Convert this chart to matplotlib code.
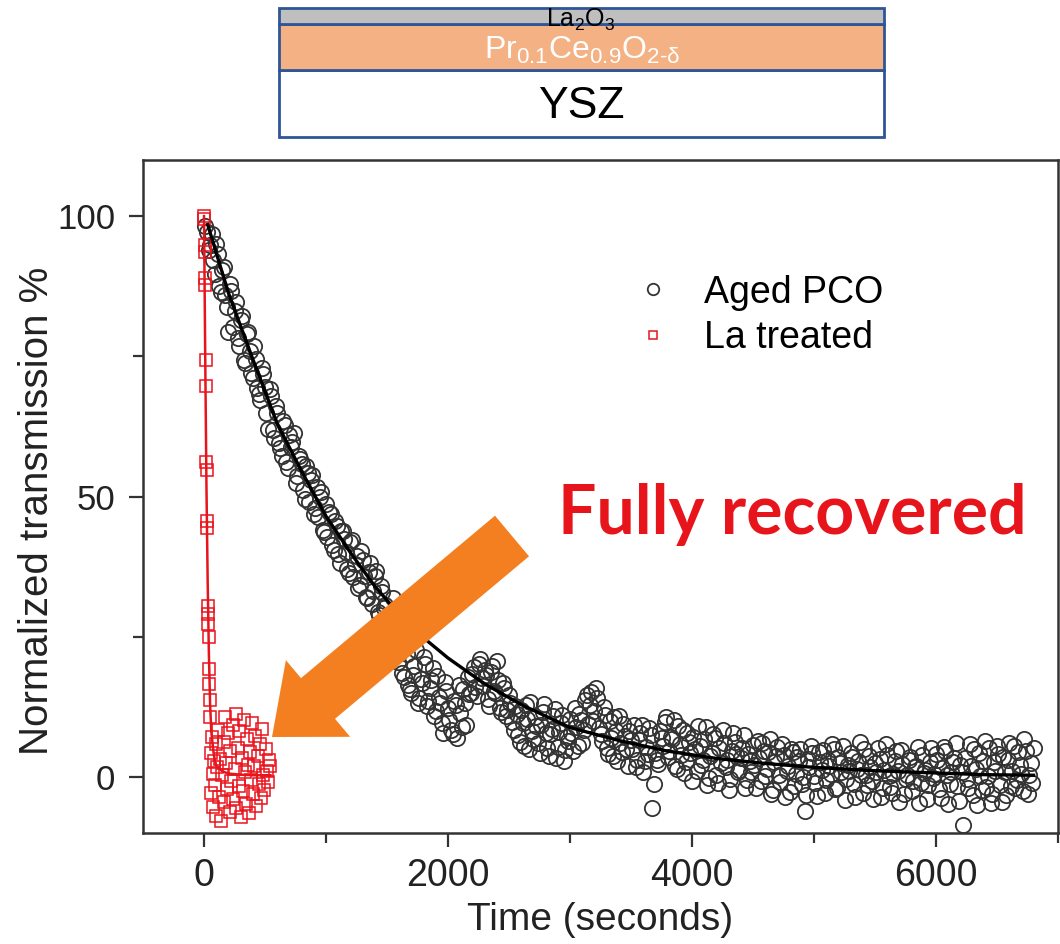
import matplotlib
matplotlib.use('Agg')
import matplotlib.pyplot as plt
import matplotlib.transforms as mtransforms
from matplotlib.patches import Rectangle, FancyArrow
from matplotlib.ticker import MultipleLocator

plt.rcParams['font.family'] = ['Liberation Sans', 'DejaVu Sans']
plt.rcParams['mathtext.fontset'] = 'custom'
plt.rcParams['mathtext.rm'] = 'Liberation Sans'
plt.rcParams['mathtext.it'] = 'Liberation Sans'

# ---- data ----
# aged PCO, normalized transmission (%) vs time (s) -- first pass of readings
aged_time = [
    25, 50, 75, 100, 125, 150, 175, 200, 225, 250, 275, 300, 325, 350, 375, 400, 425, 450, 475, 500,
    525, 550, 575, 600, 625, 650, 675, 700, 725, 750, 775, 800, 825, 850, 875, 900, 925, 950, 975, 1000,
    1025, 1050, 1075, 1100, 1125, 1150, 1175, 1200, 1225, 1250, 1275, 1300, 1325, 1350, 1375, 1400, 1425, 1450, 1475, 1500,
    1525, 1550, 1575, 1600, 1625, 1650, 1675, 1700, 1725, 1750, 1775, 1800, 1825, 1850, 1875, 1900, 1925, 1950, 1975, 2000,
    2025, 2050, 2075, 2100, 2125, 2150, 2175, 2200, 2225, 2250, 2275, 2300, 2325, 2350, 2375, 2400, 2425, 2450, 2475, 2500,
    2525, 2550, 2575, 2600, 2625, 2650, 2675, 2700, 2725, 2750, 2775, 2800, 2825, 2850, 2875, 2900, 2925, 2950, 2975, 3000,
    3025, 3050, 3075, 3100, 3125, 3150, 3175, 3200, 3225, 3250, 3275, 3300, 3325, 3350, 3375, 3400, 3425, 3450, 3475, 3500,
    3525, 3550, 3575, 3600, 3625, 3650, 3675, 3700, 3725, 3750, 3775, 3800, 3825, 3850, 3875, 3900, 3925, 3950, 3975, 4000,
    4025, 4050, 4075, 4100, 4125, 4150, 4175, 4200, 4225, 4250, 4275, 4300, 4325, 4350, 4375, 4400, 4425, 4450, 4475, 4500,
    4525, 4550, 4575, 4600, 4625, 4650, 4675, 4700, 4725, 4750, 4775, 4800, 4825, 4850, 4875, 4900, 4925, 4950, 4975, 5000,
    5025, 5050, 5075, 5100, 5125, 5150, 5175, 5200, 5225, 5250, 5275, 5300, 5325, 5350, 5375, 5400, 5425, 5450, 5475, 5500,
    5525, 5550, 5575, 5600, 5625, 5650, 5675, 5700, 5725, 5750, 5775, 5800, 5825, 5850, 5875, 5900, 5925, 5950, 5975, 6000,
    6025, 6050, 6075, 6100, 6125, 6150, 6175, 6200, 6225, 6250, 6275, 6300, 6325, 6350, 6375, 6400, 6425, 6450, 6475, 6500,
    6525, 6550, 6575, 6600, 6625, 6650, 6675, 6700, 6725, 6750, 6775, 6800,
]
aged_trans = [
    97.2, 94.8, 92.1, 95.0, 87.6, 90.3, 85.9, 79.4, 86.7, 83.1, 78.2, 81.5, 74.3, 78.9, 76.0, 71.2, 74.6, 68.3, 72.9, 69.5,
    62.1, 67.9, 60.4, 64.8, 58.7, 63.5, 56.2, 60.9, 59.8, 52.4, 57.3, 55.8, 49.6, 54.2, 52.9, 46.8, 51.7, 49.9, 44.1, 48.6,
    47.2, 41.3, 45.6, 39.8, 43.9, 42.5, 37.1, 41.8, 35.6, 39.4, 34.2, 38.7, 32.1, 36.5, 30.8, 35.9, 29.4, 34.1, 30.2, 27.6,
    26.3, 31.9, 24.8, 22.1, 18.6, 25.7, 16.4, 14.9, 19.8, 13.2, 17.5, 21.3, 12.6, 15.8, 19.4, 11.7, 14.3, 9.6, 16.9, 12.2,
    8.3, 13.5, 6.9, 11.4, 15.7, 9.2, 14.8, 18.3, 16.1, 20.2, 17.6, 19.1, 13.9, 18.7, 15.4, 20.6, 12.3, 16.8, 10.9, 14.6,
    9.8, 12.7, 7.4, 11.9, 5.6, 10.3, 13.4, 6.8, 9.1, 4.2, 11.6, 7.9, 3.8, 8.6, 12.1, 5.3, 9.7, 2.9, 7.2, 10.4,
    4.6, 8.9, 11.3, 6.1, 13.8, 9.4, 15.2, 11.7, 14.1, 7.6, 12.4, 5.2, 9.9, 3.7, 8.2, 10.8, 4.4, 7.3, 1.9, 6.6,
    9.2, 3.1, 7.8, 0.9, 5.4, 8.7, -5.6, 4.2, 2.3, 6.9, 9.8, 3.6, 7.1, 10.2, 1.4, 5.8, 8.4, 2.7, 6.3, -0.8,
    4.9, 9.1, 2.2, 6.7, -1.5, 3.8, 7.6, 0.4, 5.1, 8.3, 1.7, -2.3, 4.6, 6.2, 0.8, 3.3, 7.4, -0.6, 2.9, 5.7,
    -1.9, 3.4, 6.1, 0.2, 4.5, -3.1, 2.6, 5.3, -0.9, 3.9, 1.1, -2.7, 4.4, 0.6, 2.8, -1.2, -6.1, 3.2, 5.5, 0.1,
    -3.4, 2.7, 4.8, -0.5, 1.9, 5.9, -2.2, 3.6, 0.9, -4.1, 2.1, 4.3, -1.3, 1.5, 6.2, -2.8, 0.3, 3.7, -0.7, 2.4,
    5.1, -3.6, 1.2, 3.9, -1.8, 0.5, 4.6, -4.4, 2.3, -0.4, 3.1, -2.5, 1.8, 5.4, -1.1, 0.7, -3.9, 2.6, -0.2, 4.1,
    -2.1, 1.6, 4.7, -4.8, 0.9, 3.3, -1.6, 2.2, -8.6, -0.3, 5.9, -3.2, 1.4, 4.2, -2.4, 6.4, 0.2, -4.6, 2.7, 5.6,
    -1.4, 3.5, -3.3, 6.1, 1.1, -2.0, 4.4, 0.6, 6.8, -3.0, 2.5, 5.2,
]
# second, interleaved pass of readings (the cloud is dense)
aged_time_b = [
    12, 37, 62, 87, 112, 137, 162, 187, 212, 237, 262, 287, 312, 337, 362, 387, 412, 437, 462, 487,
    512, 537, 562, 587, 612, 637, 662, 687, 712, 737, 762, 787, 812, 837, 862, 887, 912, 937, 962, 987,
    1012, 1037, 1062, 1087, 1112, 1137, 1162, 1187, 1212, 1237, 1262, 1287, 1312, 1337, 1362, 1387, 1412, 1437, 1462, 1487,
    1512, 1537, 1562, 1587, 1612, 1637, 1662, 1687, 1712, 1737, 1762, 1787, 1812, 1837, 1862, 1887, 1912, 1937, 1962, 1987,
    2012, 2037, 2062, 2087, 2112, 2137, 2162, 2187, 2212, 2237, 2262, 2287, 2312, 2337, 2362, 2387, 2412, 2437, 2462, 2487,
    2512, 2537, 2562, 2587, 2612, 2637, 2662, 2687, 2712, 2737, 2762, 2787, 2812, 2837, 2862, 2887, 2912, 2937, 2962, 2987,
    3012, 3037, 3062, 3087, 3112, 3137, 3162, 3187, 3212, 3237, 3262, 3287, 3312, 3337, 3362, 3387, 3412, 3437, 3462, 3487,
    3512, 3537, 3562, 3587, 3612, 3637, 3662, 3687, 3712, 3737, 3762, 3787, 3812, 3837, 3862, 3887, 3912, 3937, 3962, 3987,
    4012, 4037, 4062, 4087, 4112, 4137, 4162, 4187, 4212, 4237, 4262, 4287, 4312, 4337, 4362, 4387, 4412, 4437, 4462, 4487,
    4512, 4537, 4562, 4587, 4612, 4637, 4662, 4687, 4712, 4737, 4762, 4787, 4812, 4837, 4862, 4887, 4912, 4937, 4962, 4987,
    5012, 5037, 5062, 5087, 5112, 5137, 5162, 5187, 5212, 5237, 5262, 5287, 5312, 5337, 5362, 5387, 5412, 5437, 5462, 5487,
    5512, 5537, 5562, 5587, 5612, 5637, 5662, 5687, 5712, 5737, 5762, 5787, 5812, 5837, 5862, 5887, 5912, 5937, 5962, 5987,
    6012, 6037, 6062, 6087, 6112, 6137, 6162, 6187, 6212, 6237, 6262, 6287, 6312, 6337, 6362, 6387, 6412, 6437, 6462, 6487,
    6512, 6537, 6562, 6587, 6612, 6637, 6662, 6687, 6712, 6737, 6762, 6787,
]
aged_trans_b = [
    98.3, 93.9, 96.8, 89.7, 93.2, 86.4, 91.0, 83.7, 87.9, 80.2, 84.6, 76.9, 82.1, 73.8, 79.3, 72.1, 76.8, 69.4, 67.2, 71.8,
    64.9, 69.1, 61.8, 66.2, 59.5, 57.3, 62.7, 55.1, 58.9, 61.3, 53.7, 56.6, 51.2, 55.4, 49.1, 53.8, 47.9, 46.3, 50.8, 43.6,
    42.8, 46.9, 40.5, 44.7, 38.2, 43.8, 40.1, 36.4, 42.2, 37.9, 33.6, 40.3, 35.8, 31.9, 38.1, 33.2, 36.7, 28.9, 33.0, 30.6,
    28.4, 23.7, 27.9, 20.5, 24.3, 17.8, 21.9, 15.6, 18.2, 22.6, 14.1, 16.7, 20.1, 13.5, 17.2, 10.8, 18.0, 13.1, 7.9, 15.3,
    10.2, 7.6, 12.8, 16.4, 8.9, 13.2, 17.9, 15.0, 19.6, 14.4, 21.1, 16.3, 18.1, 12.7, 19.8, 14.9, 17.3, 11.5, 15.9, 12.0,
    13.1, 8.4, 11.2, 6.3, 9.6, 12.9, 4.9, 8.2, 10.7, 6.0, 9.3, 13.0, 5.1, 7.7, 10.9, 3.4, 8.0, 11.1, 4.8, 6.4,
    7.9, 12.2, 5.5, 10.1, 8.3, 14.6, 12.9, 10.0, 15.8, 8.8, 6.4, 11.0, 4.1, 7.0, 10.6, 2.8, 6.1, 9.5, 4.9, 8.1,
    5.0, 1.8, 6.6, 9.3, 2.9, 4.0, 7.5, -1.3, 3.0, 8.2, 5.5, 10.6, 4.7, 6.8, 2.0, 9.0, 3.9, 0.7, 7.9, 4.3,
    7.2, 1.0, 5.6, 3.1, 8.9, -0.2, 4.3, 6.9, -1.0, 2.5, 6.0, 3.0, -0.4, 7.8, 4.1, 1.3, 5.2, -2.0, 4.0, 0.9,
    2.1, 6.4, -0.8, 4.7, 1.5, 6.8, -2.3, 3.7, 0.3, 5.8, -3.6, 2.0, 4.9, -1.6, 3.6, 5.0, 0.0, -3.3, 1.8, 4.2,
    -1.0, 4.5, 1.3, -2.9, 3.0, 0.6, 4.9, -1.9, 2.4, 5.6, -0.3, 1.0, 3.5, -3.5, 2.9, 0.4, 5.0, -1.5, 1.7, -4.0,
    0.8, 3.2, -2.0, 5.8, 0.1, -2.9, 2.8, 1.0, 4.8, -3.0, 0.4, 3.6, -0.8, 2.0, -4.7, 3.9, 1.3, -1.4, 5.2, 0.6,
    3.0, -3.7, 5.3, 0.4, -1.2, 2.6, 6.0, -4.3, 0.8, 3.4, -2.0, 1.9, 4.9, -5.0, 0.1, 2.8, -1.8, 5.1, -3.1, 1.0,
    4.0, -4.4, 0.9, 3.0, -1.7, 5.5, -0.5, 2.2, -2.6, 4.6, 0.3, -1.0,
]
# fitted decay for aged PCO
aged_fit_time = [30, 200, 400, 600, 800, 1000, 1200, 1400, 1600, 1800, 2000, 2300, 2600,
                 3000, 3400, 3800, 4200, 4600, 5000, 5500, 6000, 6400, 6800]
aged_fit_trans = [98.5, 86.3, 74.5, 63.0, 54.5, 46.5, 40.0, 34.0, 29.0, 24.8, 21.2, 16.6, 12.9,
                  8.8, 6.5, 4.6, 3.3, 2.4, 1.7, 1.1, 0.7, 0.4, 0.3]

# La treated
la_time = [0, 3, 6, 8, 10, 12, 15, 17, 19, 21, 24, 26, 30, 32, 34, 37, 40, 43, 46, 50,
           55, 60, 65, 70, 75, 80, 90, 95, 100, 110, 115, 125, 130, 140, 150, 160, 165, 175, 180, 190,
           200, 210, 215, 225, 235, 240, 250, 260, 265, 275, 285, 290, 300, 310, 320, 325, 335, 345, 350, 360,
           370, 380, 385, 395, 405, 410, 420, 430, 440, 450, 455, 465, 475, 485, 495, 505, 515, 525, 535, 545]
la_trans = [100.0, 99.5, 94.8, 93.6, 88.9, 87.8, 74.4, 69.7, 56.2, 54.8, 45.6, 44.3, 30.4, 29.1, 27.3, 24.9, 19.3, 16.5, 13.8, 10.6,
            4.2, -2.8, 7.1, 0.6, -5.3, 2.9, -1.4, 5.8, -6.9, 1.7, 8.4, -3.6, 3.2, -7.8, 0.3, 6.3, -4.5, 10.6, 2.4, -2.1,
            7.9, -6.2, 4.7, -0.8, 9.3, -3.9, 1.5, 11.2, -5.6, 5.2, -1.7, 8.1, -7.1, 3.4, -2.6, 10.1, 0.9, -4.8, 6.8, 2.1,
            -6.4, 4.4, -0.5, 9.6, -3.1, 1.9, 7.3, -5.1, 3.7, -1.2, 5.9, -3.8, 8.6, 0.4, -2.3, 4.9, 1.1, -0.9, 3.1, 2.0]
la_fit_time = [0, 10, 20, 30, 40, 50, 60, 80, 100, 150, 200, 300, 400, 500, 545]
la_fit_trans = [100, 75, 52, 35, 22, 13, 8, 4, 2, 1, 0.6, 0.4, 0.3, 0.3, 0.3]

W, H = 1060, 944
fig = plt.figure(figsize=(W / 100, H / 100), dpi=100)
# pixel coordinates with origin at top-left, for the decorations
px = mtransforms.Affine2D().scale(1.0 / W, -1.0 / H).translate(0, 1) + fig.transFigure

ax = fig.add_axes([143 / W, 111 / H, 915 / W, 673 / H])

circ = dict(ls='none', marker='o', ms=11, mfc='none', mec='#333333', mew=1.3, zorder=2)
ax.plot(aged_time, aged_trans, label='Aged PCO', **circ)
ax.plot(aged_time_b, aged_trans_b, **circ)
ax.plot(la_time, la_trans, ls='none', marker='s', ms=8.5, mfc='none',
        mec='#e8141c', mew=1.1, label='La treated', zorder=3)
ax.plot(aged_fit_time, aged_fit_trans, color='black', lw=2.4, zorder=4)
ax.plot(la_fit_time, la_fit_trans, color='#e8141c', lw=1.8, zorder=4)

ax.set_xlim(-500, 7000)
ax.set_ylim(-10, 110)
ax.xaxis.set_major_locator(MultipleLocator(2000))
ax.xaxis.set_minor_locator(MultipleLocator(1000))
ax.yaxis.set_major_locator(MultipleLocator(50))
ax.yaxis.set_minor_locator(MultipleLocator(25))
ax.set_yticks([0, 50, 100])
ax.tick_params(which='major', direction='out', length=10, width=1.6, pad=8,
               labelsize=27, colors='#333333', labelcolor='#222222')
ax.tick_params(axis='y', which='major', labelsize=25, pad=10)
ax.tick_params(which='minor', direction='out', length=7, width=1.6, colors='#333333')
for sp in ax.spines.values():
    sp.set_linewidth(1.8)
    sp.set_color('#333333')

ax.set_xlabel('Time (seconds)', fontsize=28, color='#222222', labelpad=6)
ax.set_ylabel('Normalized transmission %', fontsize=29, color='#222222')
ax.yaxis.set_label_coords(-0.095, 0.478)

ax.legend(loc='upper left', bbox_to_anchor=(0.49, 0.88), frameon=False,
          fontsize=27, markerscale=0.75, handletextpad=0.6, labelspacing=0.25,
          handlelength=1.5)

# annotation
fig.text(792, 515, 'Fully recovered', transform=px, ha='center', va='center',
         fontsize=49, fontweight='bold', color='#e8141c', family=['Lato', 'DejaVu Sans'])
arrow = FancyArrow(512, 536, -240, 201, width=53, head_width=100, head_length=60,
                   length_includes_head=True, transform=px, color='#f47f20', lw=0)
fig.patches.append(arrow)

# layer stack sketch above the plot
edge = '#2f5597'
fig.patches.append(Rectangle((279, 70), 605, 67, transform=px, fc='white', ec=edge, lw=2))
fig.patches.append(Rectangle((279, 24), 605, 46, transform=px, fc='#f4b183', ec=edge, lw=2))
fig.patches.append(Rectangle((279, 8), 605, 16, transform=px, fc='#bfbfbf', ec=edge, lw=2))
fig.text(581, 20, r'La$_2$O$_3$', transform=px, ha='center', va='center', fontsize=18, color='black')
fig.text(582, 50, 'Pr$_{0.1}$Ce$_{0.9}$O$_{2\u2010δ}$', transform=px, ha='center', va='center',
         fontsize=23, color='white')
fig.text(581, 106, 'YSZ', transform=px, ha='center', va='center', fontsize=32, color='black')

fig.savefig('out.png', dpi=100)
